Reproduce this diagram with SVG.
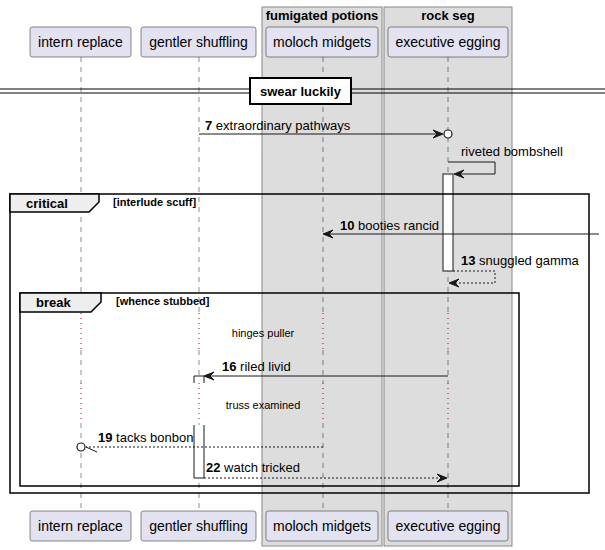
<svg xmlns="http://www.w3.org/2000/svg" width="605" height="550" viewBox="0 0 605 550">
<style>
text{font-family:"Liberation Sans",Arial,sans-serif;fill:#000}
.grp{fill:#DDDDDD;stroke:#888;stroke-width:1}
.gt{font-size:13px;font-weight:bold;text-anchor:middle}
.part{fill:#E2E2F0;stroke:#181818;stroke-width:0.5}
.pt{font-size:14px;text-anchor:middle}
.life{stroke:#181818;stroke-width:0.5;stroke-dasharray:5,5;fill:none}
.delay{stroke:#A80036;stroke-width:1;stroke-dasharray:1,4;fill:none}
.msg{stroke:#181818;stroke-width:1;fill:none}
.dash{stroke:#181818;stroke-width:1;stroke-dasharray:2,2;fill:none}
.ml{font-size:13px}
.num{font-weight:bold}
.frame{fill:none;stroke:#000;stroke-width:1.5}
.tab{fill:#EEEEEE;stroke:#000;stroke-width:1.5}
.ft{font-size:13px;font-weight:bold}
.fc{font-size:11px;font-weight:bold}
.dt{font-size:11px;text-anchor:middle}
.act{fill:#FFFFFF;stroke:#181818;stroke-width:1}
.head{fill:#181818;stroke:#181818;stroke-width:1}
</style>
<g id="box-fumigated-potions">
<rect class="grp" x="262" y="7" width="120" height="539"/>
<text class="gt" x="322" y="20">fumigated potions</text>
</g>
<g id="box-rock-seg">
<rect class="grp" x="384" y="7" width="128" height="539"/>
<text class="gt" x="448" y="20">rock seg</text>
</g>
<g id="lifelines">
<line class="life" x1="81" y1="57" x2="81" y2="313"/>
<line class="life" x1="81" y1="350" x2="81" y2="383"/>
<line class="life" x1="81" y1="423" x2="81" y2="511"/>
<line class="life" x1="199" y1="57" x2="199" y2="313"/>
<line class="life" x1="199" y1="350" x2="199" y2="383"/>
<line class="life" x1="199" y1="423" x2="199" y2="511"/>
<line class="life" x1="323" y1="57" x2="323" y2="313"/>
<line class="life" x1="323" y1="350" x2="323" y2="383"/>
<line class="life" x1="323" y1="423" x2="323" y2="511"/>
<line class="life" x1="448" y1="57" x2="448" y2="313"/>
<line class="life" x1="448" y1="350" x2="448" y2="383"/>
<line class="life" x1="448" y1="423" x2="448" y2="511"/>
<line class="delay" x1="81" y1="313" x2="81" y2="350"/>
<line class="delay" x1="199" y1="313" x2="199" y2="350"/>
<line class="delay" x1="323" y1="313" x2="323" y2="350"/>
<line class="delay" x1="448" y1="313" x2="448" y2="350"/>
<line class="delay" x1="81" y1="383" x2="81" y2="423"/>
<line class="delay" x1="199" y1="383" x2="199" y2="423"/>
<line class="delay" x1="323" y1="383" x2="323" y2="423"/>
<line class="delay" x1="448" y1="383" x2="448" y2="423"/>
</g>
<g id="p-intern-replace">
<rect class="part" x="30" y="27" width="101" height="30" rx="2.5"/>
<text class="pt" x="80.5" y="47">intern replace</text>
<rect class="part" x="30" y="511" width="101" height="30" rx="2.5"/>
<text class="pt" x="80.5" y="531">intern replace</text>
</g>
<g id="p-gentler-shuffling">
<rect class="part" x="141" y="27" width="115" height="30" rx="2.5"/>
<text class="pt" x="198.5" y="47">gentler shuffling</text>
<rect class="part" x="141" y="511" width="115" height="30" rx="2.5"/>
<text class="pt" x="198.5" y="531">gentler shuffling</text>
</g>
<g id="p-moloch-midgets">
<rect class="part" x="266" y="27" width="112" height="30" rx="2.5"/>
<text class="pt" x="322" y="47">moloch midgets</text>
<rect class="part" x="266" y="511" width="112" height="30" rx="2.5"/>
<text class="pt" x="322" y="531">moloch midgets</text>
</g>
<g id="p-executive-egging">
<rect class="part" x="388" y="27" width="120" height="30" rx="2.5"/>
<text class="pt" x="448" y="47">executive egging</text>
<rect class="part" x="388" y="511" width="120" height="30" rx="2.5"/>
<text class="pt" x="448" y="531">executive egging</text>
</g>
<g id="divider-swear-luckily">
<line x1="0" y1="89" x2="605" y2="89" stroke="#000" stroke-width="1"/>
<line x1="0" y1="93" x2="605" y2="93" stroke="#000" stroke-width="1"/>
<rect x="250" y="78" width="101" height="26" fill="#FFFFFF" stroke="#000" stroke-width="2"/>
<text x="300.5" y="96" font-size="13" font-weight="bold" text-anchor="middle">swear luckily</text>
</g>
<g id="activations">
<rect class="act" x="443" y="174" width="10" height="97"/>
<path d="M194,383 V376 H204 V383" class="act" fill="none"/>
<path d="M194,425 V478 H204 V425" class="act"/>
</g>
<g id="frame-critical">
<rect class="frame" x="10" y="194" width="579" height="299"/>
<path class="tab" d="M10,194 H99 V202 L89,212 H10 Z"/>
<text class="ft" x="26" y="208">critical</text>
<text class="fc" x="113" y="206">[interlude scuff]</text>
</g>
<g id="frame-break">
<rect class="frame" x="20" y="293" width="499" height="193"/>
<path class="tab" d="M20,293 H101 V302 L91,312 H20 Z"/>
<text class="ft" x="36" y="307">break</text>
<text class="fc" x="116" y="305">[whence stubbed]</text>
</g>
<g id="delays">
<text class="dt" x="263" y="337">hinges puller</text>
<text class="dt" x="263" y="409">truss examined</text>
</g>
<g id="connectors">
<g id="m7">
<line class="msg" x1="199" y1="134" x2="442" y2="134"/>
<polygon class="head" points="443,134 433,130 437,134 433,138"/>
<circle cx="448" cy="134" r="4" fill="#FFFFFF" stroke="#181818" stroke-width="1.2"/>
<text class="ml" x="205" y="130"><tspan class="num">7</tspan> extraordinary pathways</text>
</g>
<g id="m-riveted">
<polyline class="msg" points="448,162 495,162 495,174 455,174"/>
<polygon class="head" points="454,174 464,170 460,174 464,178"/>
<text class="ml" x="461" y="156">riveted bombshell</text>
</g>
<g id="m10">
<line class="msg" x1="599" y1="234" x2="324" y2="234"/>
<polygon class="head" points="323,234 333,230 329,234 333,238"/>
<text class="ml" x="340" y="230"><tspan class="num">10</tspan> booties rancid</text>
</g>
<g id="m13">
<polyline class="dash" points="453,271 495,271 495,283 450,283"/>
<polygon class="head" points="449,283 459,279 455,283 459,287"/>
<text class="ml" x="461" y="265"><tspan class="num">13</tspan> snuggled gamma</text>
</g>
<g id="m16">
<line class="msg" x1="448" y1="376" x2="205" y2="376"/>
<polygon class="head" points="204,376 214,372 210,376 214,380"/>
<text class="ml" x="222" y="371"><tspan class="num">16</tspan> riled livid</text>
</g>
<g id="m19">
<line class="dash" x1="323" y1="447" x2="86" y2="447"/>
<line class="msg" x1="86" y1="447" x2="97" y2="452"/>
<circle cx="81" cy="447" r="4" fill="#FFFFFF" stroke="#181818" stroke-width="1.2"/>
<text class="ml" x="98" y="442"><tspan class="num">19</tspan> tacks bonbon</text>
</g>
<g id="m22">
<line class="dash" x1="204" y1="478" x2="446" y2="478"/>
<polygon class="head" points="447,478 437,474 441,478 437,482"/>
<text class="ml" x="206" y="472"><tspan class="num">22</tspan> watch tricked</text>
</g>
</g>
</svg>
